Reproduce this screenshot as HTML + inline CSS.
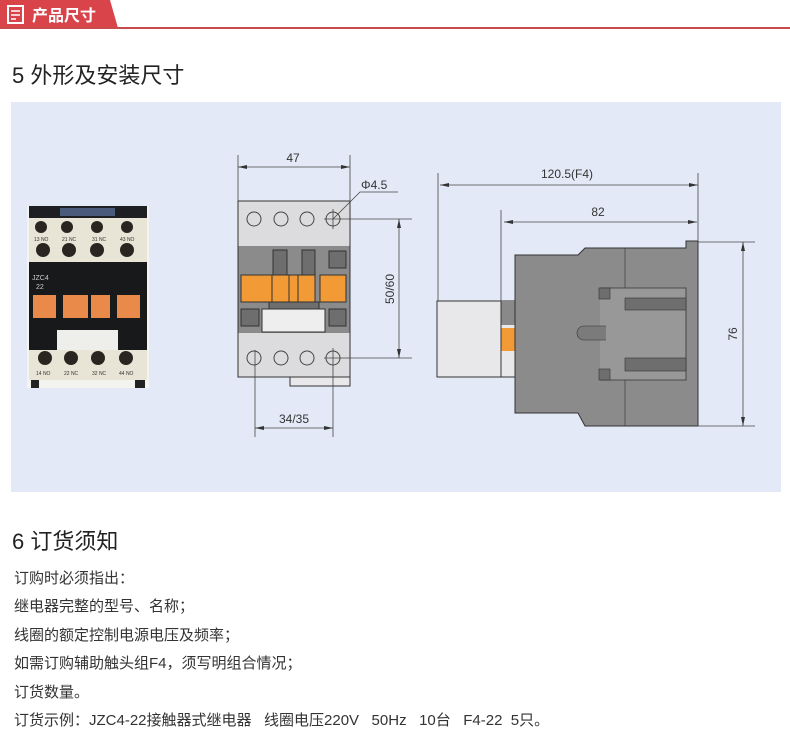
<!DOCTYPE html>
<html><head><meta charset="utf-8"><style>
html,body{margin:0;padding:0;background:#fff;}
svg{display:block}
text{font-family:"Liberation Sans","Noto Sans CJK SC",sans-serif;}
</style></head><body>
<svg width="790" height="749" viewBox="0 0 790 749" xmlns="http://www.w3.org/2000/svg">
<!-- header -->
<path d="M0,0 H110 L118,28 H0 Z" fill="#d9434a"/>
<rect x="0" y="27" width="790" height="2" fill="#c84a4a"/>
<rect x="8" y="6" width="15" height="17" fill="none" stroke="#fff" stroke-width="2"/>
<line x1="11" y1="11" x2="20" y2="11" stroke="#fff" stroke-width="1.5"/>
<line x1="11" y1="15" x2="20" y2="15" stroke="#fff" stroke-width="1.5"/>
<line x1="11" y1="19" x2="16" y2="19" stroke="#fff" stroke-width="1.5"/>
<text x="32" y="21" font-size="16" font-weight="bold" fill="#fff">产品尺寸</text>
<text x="12" y="83" font-size="22" fill="#222">5 外形及安装尺寸</text>
<!-- panel -->
<rect x="11" y="102" width="770" height="390" fill="#e3e9f6"/>
<!-- photo -->
<g>
<rect x="27" y="206" width="122" height="182" fill="#f3f3f0"/>
<rect x="29" y="206" width="118" height="12" fill="#1e1f22"/>
<rect x="60" y="208" width="55" height="8" fill="#4a5a7a"/>
<rect x="29" y="218" width="118" height="44" fill="#e8e4d6"/>
<g fill="#2a2520"><circle cx="41" cy="227" r="6"/><circle cx="67" cy="227" r="6"/><circle cx="97" cy="227" r="6"/><circle cx="127" cy="227" r="6"/>
<circle cx="43" cy="250" r="7"/><circle cx="69" cy="250" r="7"/><circle cx="97" cy="250" r="7"/><circle cx="127" cy="250" r="7"/></g>
<g font-size="5" fill="#333"><text x="34" y="241">13 NO</text><text x="62" y="241">21 NC</text><text x="92" y="241">31 NC</text><text x="120" y="241">43 NO</text></g>
<rect x="29" y="262" width="118" height="88" fill="#18191b"/>
<text x="32" y="280" font-size="7" fill="#ccc">JZC4</text><text x="36" y="289" font-size="7" fill="#ccc">22</text>
<g fill="#e98a4a"><rect x="33" y="295" width="23" height="23"/><rect x="63" y="295" width="25" height="23"/><rect x="91" y="295" width="19" height="23"/><rect x="117" y="295" width="23" height="23"/></g>
<rect x="57" y="330" width="61" height="20" fill="#eeeeea"/>
<rect x="29" y="350" width="118" height="30" fill="#e8e4d6"/>
<g fill="#2a2520"><circle cx="45" cy="358" r="7"/><circle cx="71" cy="358" r="7"/><circle cx="98" cy="358" r="7"/><circle cx="126" cy="358" r="7"/></g>
<g font-size="5" fill="#333"><text x="36" y="375">14 NO</text><text x="64" y="375">22 NC</text><text x="92" y="375">32 NC</text><text x="119" y="375">44 NO</text></g>
<rect x="31" y="380" width="8" height="8" fill="#222"/><rect x="135" y="380" width="10" height="8" fill="#222"/>
</g>
<!-- front view -->
<g stroke="#333" stroke-width="1">
<path d="M290,377 V386 H350 V377" fill="#e8e8ea"/>
<rect x="238" y="201" width="112" height="176" fill="#dcdcde"/>
<rect x="238" y="246" width="112" height="87" fill="#8c8b8b" stroke="none"/>
<rect x="273" y="250" width="14" height="25" fill="#6f6e6e"/>
<rect x="302" y="250" width="13" height="25" fill="#6f6e6e"/>
<rect x="329" y="251" width="17" height="17" fill="#6f6e6e"/>
<rect x="269" y="302" width="50" height="8" fill="#6f6e6e"/>
<g fill="#f29a36"><rect x="241" y="275" width="31" height="27"/><rect x="272" y="275" width="17" height="27"/><rect x="289" y="275" width="9" height="27"/><rect x="298" y="275" width="17" height="27"/><rect x="320" y="275" width="26" height="27"/></g>
<rect x="241" y="309" width="18" height="17" fill="#6f6e6e"/>
<rect x="329" y="309" width="17" height="17" fill="#6f6e6e"/>
<rect x="262" y="309" width="63" height="23" fill="#eeeeee"/>
<rect x="238" y="201" width="112" height="176" fill="none"/>
<g fill="none" stroke="#444"><circle cx="254" cy="219" r="7"/><circle cx="281" cy="219" r="7"/><circle cx="307" cy="219" r="7"/><circle cx="333" cy="219" r="7"/>
<circle cx="254" cy="358" r="7"/><circle cx="281" cy="358" r="7"/><circle cx="307" cy="358" r="7"/><circle cx="333" cy="358" r="7"/></g>
</g>
<g stroke="#444" stroke-width="0.8" fill="none">
<line x1="238" y1="155" x2="238" y2="201"/><line x1="350" y1="155" x2="350" y2="201"/>
<line x1="238" y1="167" x2="350" y2="167"/>
<line x1="324" y1="219" x2="412" y2="219"/><line x1="333" y1="209" x2="333" y2="229"/>
<line x1="324" y1="358" x2="412" y2="358"/><line x1="333" y1="348" x2="333" y2="437"/>
<line x1="255" y1="350" x2="255" y2="437"/>
<line x1="399" y1="219" x2="399" y2="358"/>
<line x1="255" y1="428" x2="333" y2="428"/>
<polyline points="333,219 360,192 398,192"/>
</g>
<g fill="#333">
<path d="M238,167 l9,-2 v4z"/><path d="M350,167 l-9,-2 v4z"/>
<path d="M399,219 l-2,9 h4z"/><path d="M399,358 l-2,-9 h4z"/>
<path d="M255,428 l9,-2 v4z"/><path d="M333,428 l-9,-2 v4z"/>
</g>
<g font-size="12" fill="#333">
<text x="293" y="162" text-anchor="middle">47</text>
<text x="361" y="189">Φ4.5</text>
<text x="294" y="423" text-anchor="middle">34/35</text>
<text transform="translate(394,289) rotate(-90)" text-anchor="middle">50/60</text>
</g>
<!-- side view -->
<g stroke="#333" stroke-width="1">
<rect x="437" y="301" width="78" height="76" fill="#e8e8ea"/>
<rect x="501" y="301" width="14" height="24" fill="#8a8989" stroke="none"/>
<rect x="501" y="328" width="14" height="23" fill="#f29a36" stroke="none"/>
<line x1="501" y1="301" x2="501" y2="377"/>
<polygon points="515,255 578,255 585,248 686,248 686,241 698,241 698,426 585,426 578,413 515,413" fill="#8c8b8b"/>
<polyline points="600,288 686,288 686,380 600,380 Z" fill="#999899" stroke-width="0.8"/>
<line x1="625" y1="248" x2="625" y2="288" stroke-width="0.6"/><line x1="625" y1="380" x2="625" y2="426" stroke-width="0.6"/>
<rect x="599" y="288" width="11" height="11" fill="#6f6e6e" stroke-width="0.6"/>
<rect x="599" y="369" width="11" height="11" fill="#6f6e6e" stroke-width="0.6"/>
<rect x="625" y="298" width="61" height="12" fill="#6f6e6e" stroke-width="0.6"/>
<rect x="625" y="358" width="61" height="13" fill="#6f6e6e" stroke-width="0.6"/>
<path d="M606,326 H584 a7,7 0 0 0 0,14 H606" fill="#7c7b7b" stroke-width="0.6"/>
</g>
<g stroke="#444" stroke-width="0.8">
<line x1="438" y1="173" x2="438" y2="301"/><line x1="698" y1="173" x2="698" y2="241"/>
<line x1="440" y1="185" x2="698" y2="185"/>
<line x1="501" y1="210" x2="501" y2="301"/>
<line x1="504" y1="222" x2="697" y2="222"/>
<line x1="698" y1="242" x2="755" y2="242"/><line x1="698" y1="426" x2="755" y2="426"/>
<line x1="743" y1="242" x2="743" y2="426"/>
</g>
<g fill="#333">
<path d="M440,185 l9,-2 v4z"/><path d="M698,185 l-9,-2 v4z"/>
<path d="M504,222 l9,-2 v4z"/><path d="M697,222 l-9,-2 v4z"/>
<path d="M743,242 l-2,9 h4z"/><path d="M743,426 l-2,-9 h4z"/>
</g>
<g font-size="12" fill="#333">
<text x="567" y="178" text-anchor="middle">120.5(F4)</text>
<text x="598" y="216" text-anchor="middle">82</text>
<text transform="translate(737,334) rotate(-90)" text-anchor="middle">76</text>
</g>
<!-- section 6 -->
<text x="12" y="549" font-size="22" fill="#222">6 订货须知</text>
<g font-size="15" fill="#333">
<text x="14" y="583">订购时必须指出：</text>
<text x="14" y="611">继电器完整的型号、名称；</text>
<text x="14" y="640">线圈的额定控制电源电压及频率；</text>
<text x="14" y="668">如需订购辅助触头组F4，须写明组合情况；</text>
<text x="14" y="697">订货数量。</text>
<text x="14" y="725" xml:space="preserve">订货示例：JZC4-22接触器式继电器   线圈电压220V   50Hz   10台   F4-22  5只。</text>
</g>
</svg>
</body></html>
